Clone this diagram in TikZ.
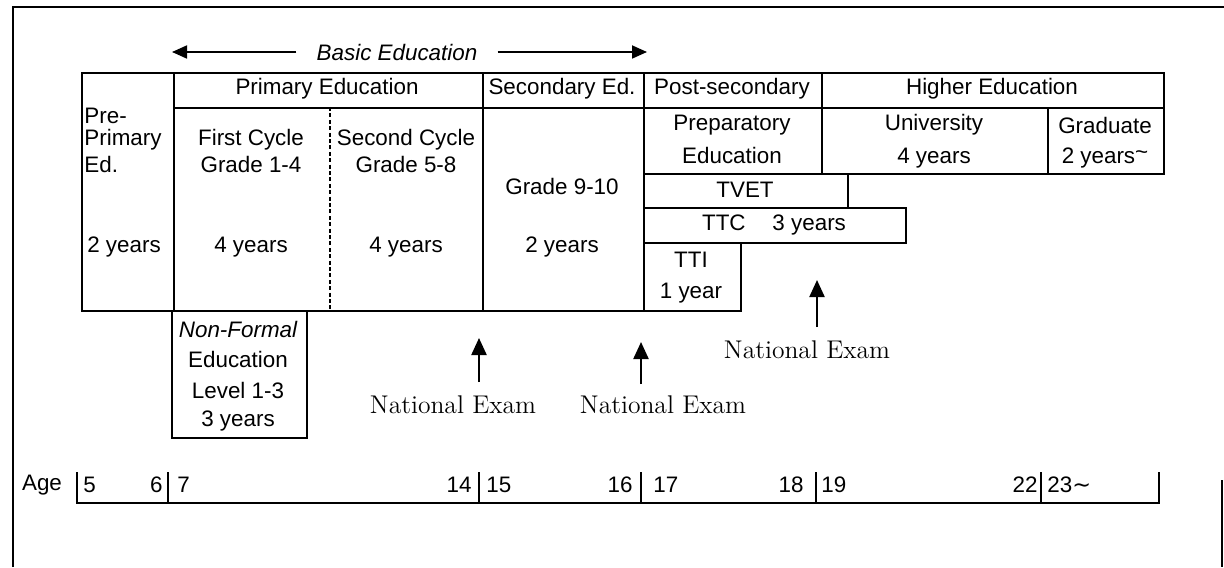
\documentclass[tikz,border=0pt]{standalone}
\usepackage{fontspec}
\newfontfamily\gothic{Liberation Sans}
\newfontfamily\symfont{DejaVu Sans}
\usetikzlibrary{arrows.meta}
\newcommand\cellat[5]{\node[cellbox, minimum width={(#4-#2)*0.5pt}, minimum height={(#5-#3)*0.5pt}] (#1) at (#2,#3) {};}
\tikzset{
  cellbox/.style={draw, line width=0.85pt, inner sep=0pt, anchor=north west},
  lbl/.style={font=\gothic\fontsize{11.2}{13}\selectfont, inner sep=0pt},
  examlbl/.style={font=\fontsize{12.8}{15}\selectfont, inner sep=0pt},
  examarrow/.style={line width=1.1pt, -{Triangle[length=8.5pt,width=7.5pt]}},
  basicarrow/.style={line width=0.9pt, -{Triangle[length=7.5pt,width=6.5pt]}},
  rule/.style={line width=0.85pt},
  cycledash/.style={line width=0.6pt, dash pattern=on 2pt off 1.2pt},
}
\begin{document}
\begin{tikzpicture}[x=0.5pt,y=-0.5pt]
\useasboundingbox (0,0) rectangle (1224,567);
\fill[white] (0,0) rectangle (1224,567);
% outer frame
\coordinate (fTL) at (13,7);
\coordinate (fTR) at (1224,7);
\coordinate (fBL) at (13,567);
\coordinate (fR1) at (1222,480);
\coordinate (fR2) at (1222,567);
\draw[rule] (fBL) -- (fTL) -- (fTR);
\draw[rule] (fR1) -- (fR2);

% Basic Education
\node[lbl, font=\gothic\itshape\fontsize{11.2}{13}\selectfont] (basic) at (397,52) {Basic Education};
\coordinate (bL) at (172,52);
\coordinate (bR) at (647,52);
\draw[basicarrow] (basic.west) ++(-20,0) -- (bL);
\draw[basicarrow] (basic.east) ++(20,0) -- (bR);

% cells
\cellat{pre}{81}{72}{173}{310}
\cellat{priH}{173}{72}{482}{107}
\cellat{secH}{482}{72}{643}{107}
\cellat{postH}{643}{72}{821}{107}
\cellat{highH}{821}{72}{1163}{107}
\cellat{pri}{173}{107}{482}{310}
\cellat{sec}{482}{107}{643}{310}
\cellat{prep}{643}{107}{821}{173}
\cellat{univ}{821}{107}{1047}{173}
\cellat{grad}{1047}{107}{1163}{173}
\cellat{tvet}{643}{173}{847}{207}
\cellat{ttc}{643}{207}{905}{242}
\cellat{tti}{643}{242}{740}{310}
\cellat{nfe}{171}{310}{306}{437}
\coordinate (dTop) at (330,107);
\coordinate (dBot) at (330,310);
\draw[cycledash] (dTop) -- (dBot);

% headers
\node[lbl] (tPriH) at (327,89) {Primary Education};
\node[lbl] (tSecH) at (562,89) {Secondary Ed.};
\node[lbl] (tPostH) at (732,89) {Post-secondary};
\node[lbl] (tHighH) at (992,89) {Higher Education};

% pre-primary
\node[lbl, anchor=west] (tPre1) at (84,116) {Pre-};
\node[lbl, anchor=west] (tPre2) at (84,140) {Primary};
\node[lbl, anchor=west] (tPre3) at (84,164) {Ed.};
\node[lbl] (tPre4) at (124,247) {2 years};

% primary cycles
\node[lbl] (tC1a) at (251,140) {First Cycle};
\node[lbl] (tC1b) at (251,164) {Grade 1-4};
\node[lbl] (tC1c) at (251,247) {4 years};
\node[lbl] (tC2a) at (406,140) {Second Cycle};
\node[lbl] (tC2b) at (406,164) {Grade 5-8};
\node[lbl] (tC2c) at (406,247) {4 years};

% secondary
\node[lbl] (tSec1) at (562,186) {Grade 9-10};
\node[lbl] (tSec2) at (562,247) {2 years};

% post-secondary
\node[lbl] (tPrep1) at (732,125) {Preparatory};
\node[lbl] (tPrep2) at (732,155) {Education};
\node[lbl] (tTvet) at (745,190) {TVET};
\node[lbl] (tTtc) at (774,225) {TTC\hspace{1.2em}3 years};
\node[lbl] (tTti1) at (691,260) {TTI};
\node[lbl] (tTti2) at (691,293) {1 year};

% higher
\node[lbl] (tUni1) at (934,125) {University};
\node[lbl] (tUni2) at (934,158) {4 years};
\node[lbl] (tGrad1) at (1105,125) {Graduate};
\node[lbl] (tGrad2) at (1105,158) {2 years\raisebox{0.35ex}{\textasciitilde}};

% non-formal
\node[lbl, font=\gothic\itshape\fontsize{11.2}{13}\selectfont] (tNfe1) at (238,329) {Non-Formal};
\node[lbl] (tNfe2) at (238,359) {Education};
\node[lbl] (tNfe3) at (238,390) {Level 1-3};
\node[lbl] (tNfe4) at (238,421) {3 years};

% national exams
\node[examlbl] (ex1) at (453,405) {National Exam};
\node[examlbl] (ex2) at (663,405) {National Exam};
\node[examlbl] (ex3) at (807,350) {National Exam};
\coordinate (a1s) at (479,382); \coordinate (a1e) at (479,338);
\coordinate (a2s) at (641,384); \coordinate (a2e) at (641,342);
\coordinate (a3s) at (817,327); \coordinate (a3e) at (817,280);
\draw[examarrow] (a1s) -- (a1e);
\draw[examarrow] (a2s) -- (a2e);
\draw[examarrow] (a3s) -- (a3e);

% age line
\node[lbl] (tAge) at (42,485) {Age};
\coordinate (k0t) at (77,472);  \coordinate (k0b) at (77,503);
\coordinate (k1t) at (168,472); \coordinate (k1b) at (168,503);
\coordinate (k2t) at (479,472); \coordinate (k2b) at (479,503);
\coordinate (k3t) at (641,472); \coordinate (k3b) at (641,503);
\coordinate (k4t) at (816,472); \coordinate (k4b) at (816,503);
\coordinate (k5t) at (1041,472); \coordinate (k5b) at (1041,503);
\coordinate (k6t) at (1159,472); \coordinate (k6b) at (1159,503);
\draw[rule] (k0t) -- (k0b) -- (k6b) -- (k6t);
\foreach \k in {1,...,5} { \draw[rule] (k\k t) -- (k\k b); }
\node[lbl, anchor=west] (n5) at (83,485) {5};
\node[lbl, anchor=east] (n6) at (163,485) {6};
\node[lbl, anchor=west] (n7) at (177,485) {7};
\node[lbl, anchor=east] (n14) at (472,485) {14};
\node[lbl, anchor=west] (n15) at (486,485) {15};
\node[lbl, anchor=east] (n16) at (633,485) {16};
\node[lbl, anchor=west] (n17) at (653,485) {17};
\node[lbl, anchor=east] (n18) at (804,485) {18};
\node[lbl, anchor=west] (n19) at (821,485) {19};
\node[lbl, anchor=east] (n22) at (1038,485) {22};
\node[lbl, anchor=west] (n23) at (1047,485) {23{\symfont ∼}};
\end{tikzpicture}
\end{document}
